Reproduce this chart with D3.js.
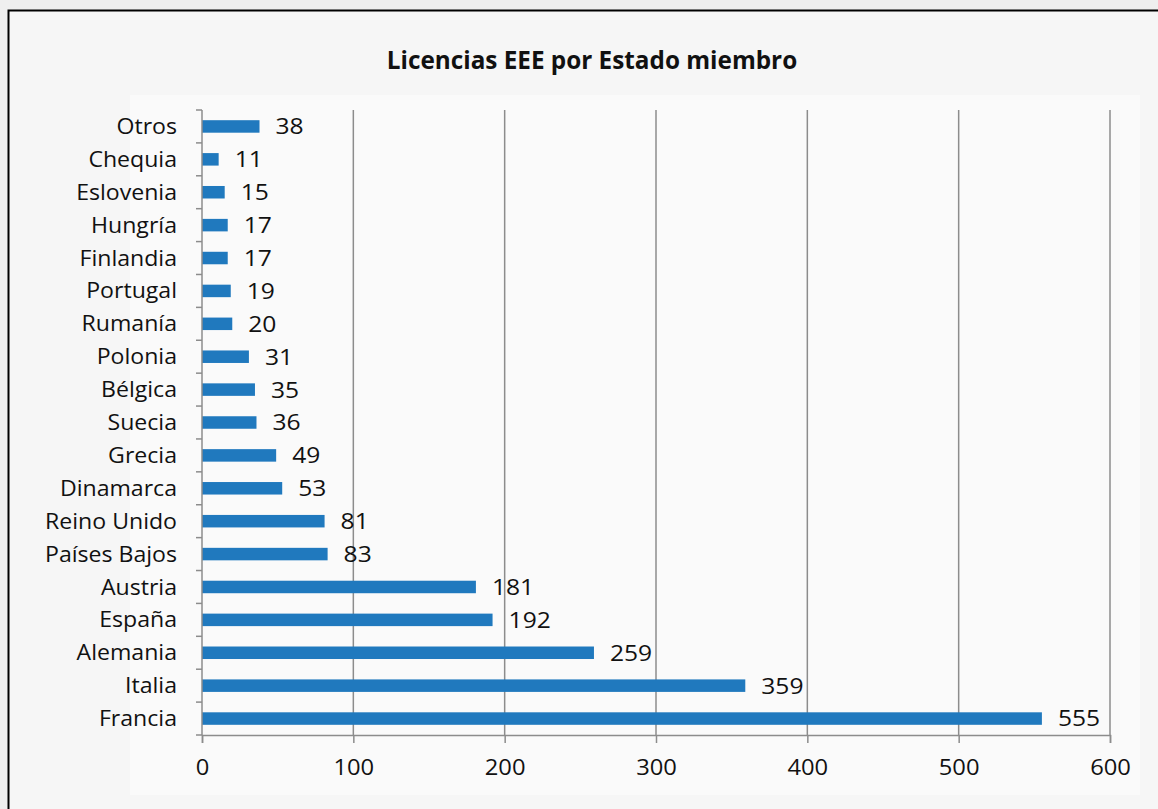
<!DOCTYPE html>
<html>
<head>
<meta charset="utf-8">
<script src="https://cdn.jsdelivr.net/npm/d3@7"></script>
<style>
  body { margin: 0; background: #efefef; }
  text { font-family: "Open Sans", sans-serif; fill: #111; }
</style>
</head>
<body>
<div id="chart"></div>
<script>
// data, top bar first
var paises = ["Otros", "Chequia", "Eslovenia", "Hungría", "Finlandia", "Portugal", "Rumanía",
  "Polonia", "Bélgica", "Suecia", "Grecia", "Dinamarca", "Reino Unido", "Países Bajos",
  "Austria", "España", "Alemania", "Italia", "Francia"];
var licencias = [38, 11, 15, 17, 17, 19, 20, 31, 35, 36, 49, 53, 81, 83, 181, 192, 259, 359, 555];
var xTicks = [0, 100, 200, 300, 400, 500, 600];
var titulo = "Licencias EEE por Estado miembro";

var width = 1158, height = 809;
var margin = {top: 110, right: 48, bottom: 74, left: 202};
var barColor = "#2079be";
var gridColor = "#8c8c8c";

var svg = d3.select("#chart").append("svg")
  .attr("width", width)
  .attr("height", height);

// frame + backgrounds
svg.append("rect")
  .attr("x", 8.5).attr("y", 10.5)
  .attr("width", width).attr("height", height)
  .attr("fill", "#f6f6f6")
  .attr("stroke", "#000")
  .attr("stroke-width", 2);

svg.append("rect")
  .attr("x", 130).attr("y", 95)
  .attr("width", 1010).attr("height", 700)
  .attr("fill", "#fafafa");

var data = paises.map((p, i) => ({pais: p, valor: licencias[i]}));

var x = d3.scaleLinear()
  .domain([0, 600])
  .range([margin.left, width - margin.right]);

var y = d3.scaleBand()
  .domain(paises)
  .range([margin.top, height - margin.bottom])
  .paddingInner(0.62)
  .paddingOuter(0.31);

// the original font is a bit wider than Open Sans, stretch it sideways
function place(px, py, sx) {
  return "translate(" + px + "," + py + ") scale(" + sx + ",1)";
}

// title
svg.append("text")
  .attr("transform", place(592, 69, 1.0))
  .attr("text-anchor", "middle")
  .style("font-size", "24.3px")
  .style("font-weight", "bold")
  .text(titulo);

// gridlines
svg.append("g")
  .selectAll("line")
  .data(xTicks.slice(1))
  .enter().append("line")
  .attr("x1", d => x(d)).attr("x2", d => x(d))
  .attr("y1", margin.top).attr("y2", height - margin.bottom)
  .attr("stroke", gridColor)
  .attr("stroke-width", 1.5);

// bars
var bars = svg.append("g");
bars.selectAll("rect")
  .data(data)
  .enter().append("rect")
  .attr("x", x(0))
  .attr("y", d => y(d.pais))
  .attr("width", d => x(d.valor) - x(0))
  .attr("height", y.bandwidth())
  .attr("fill", barColor);

// value labels
bars.selectAll("text")
  .data(data)
  .enter().append("text")
  .attr("transform", d => place(x(d.valor) + 16, y(d.pais) + y.bandwidth() / 2, 1.12))
  .attr("dy", "0.36em")
  .style("font-size", "22px")
  .text(d => d.valor);

// x axis
var xAxis = svg.append("g")
  .attr("transform", "translate(0," + (height - margin.bottom) + ")")
  .call(d3.axisBottom(x).tickValues(xTicks).tickSize(8).tickPadding(16));
xAxis.select(".domain").attr("stroke", gridColor).attr("stroke-width", 1.5);
xAxis.selectAll(".tick line").attr("stroke", gridColor).attr("stroke-width", 1.5);
xAxis.selectAll("text")
  .style("font-size", "22px")
  .style("font-family", "'Open Sans', sans-serif")
  .attr("fill", "#111")
  .attr("transform", "scale(1.08,1)")
  .attr("x", 0);

// y axis: line + ticks at band boundaries
var yg = svg.append("g");
yg.append("line")
  .attr("x1", x(0)).attr("x2", x(0))
  .attr("y1", margin.top).attr("y2", height - margin.bottom)
  .attr("stroke", gridColor).attr("stroke-width", 1.5);
var bounds = d3.range(paises.length + 1).map(i => margin.top + i * (height - margin.top - margin.bottom) / paises.length);
yg.selectAll(".yt")
  .data(bounds)
  .enter().append("line")
  .attr("class", "yt")
  .attr("x1", x(0) - 6).attr("x2", x(0))
  .attr("y1", d => d).attr("y2", d => d)
  .attr("stroke", gridColor).attr("stroke-width", 1.5);

yg.selectAll("text")
  .data(data)
  .enter().append("text")
  .attr("transform", d => place(177, y(d.pais) + y.bandwidth() / 2, 1.1))
  .attr("dy", "0.36em")
  .attr("text-anchor", "end")
  .style("font-size", "21px")
  .text(d => d.pais);
</script>
</body>
</html>
